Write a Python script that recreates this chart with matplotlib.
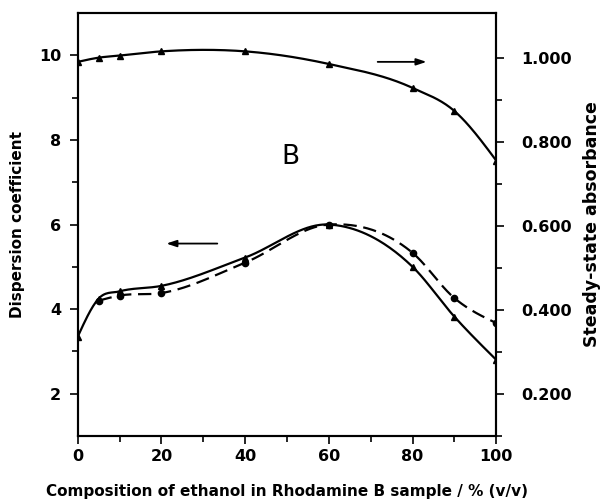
import numpy as np
import matplotlib
matplotlib.use("Agg")
import matplotlib.pyplot as plt

plt.rcParams["font.family"] = ["DejaVu Sans"]

# steady-state absorbance (right axis)
x_abs = [0, 5, 10, 20, 40, 60, 80, 90, 100]
absorbance = [0.99, 1.0, 1.005, 1.015, 1.015, 0.985, 0.928, 0.873, 0.755]

# dispersion coefficient (left axis), solid and dashed runs
x_solid = [0, 5, 10, 20, 40, 60, 80, 90, 100]
disp_solid = [3.35, 4.25, 4.42, 4.55, 5.22, 6.0, 5.0, 3.82, 2.8]
x_dash = [5, 10, 20, 40, 60, 80, 90, 100]
disp_dash = [4.2, 4.32, 4.38, 5.1, 6.0, 5.33, 4.26, 3.67]

x_ticks = [0, 20, 40, 60, 80, 100]
left_ticks = [2, 4, 6, 8, 10]
right_ticks = [0.2, 0.4, 0.6, 0.8, 1.0]


def smooth(x, y, n=300):
    """Cubic Hermite through the points, only for drawing the line."""
    x = np.asarray(x, float)
    y = np.asarray(y, float)
    h = np.diff(x)
    d = np.diff(y) / h
    m = np.empty_like(y)
    m[1:-1] = (h[1:] * d[:-1] + h[:-1] * d[1:]) / (h[:-1] + h[1:])
    m[0] = (3 * d[0] - m[1]) / 2
    m[-1] = (3 * d[-1] - m[-2]) / 2
    xs = np.linspace(x[0], x[-1], n)
    idx = np.clip(np.searchsorted(x, xs) - 1, 0, len(x) - 2)
    t = (xs - x[idx]) / h[idx]
    h00 = 2 * t**3 - 3 * t**2 + 1
    h10 = t**3 - 2 * t**2 + t
    h01 = -2 * t**3 + 3 * t**2
    h11 = t**3 - t**2
    ys = h00 * y[idx] + h10 * h[idx] * m[idx] + h01 * y[idx + 1] + h11 * h[idx] * m[idx + 1]
    return xs, ys


fig = plt.figure(figsize=(6.03, 5.04), dpi=100)
ax = fig.add_axes([0.129, 0.135, 0.694, 0.839])
ax2 = ax.twinx()

xs, ys = smooth(x_solid, disp_solid)
ax.plot(xs, ys, color="black", lw=1.6)
ax.plot(x_solid, disp_solid, "^", color="black", ms=5)
xs, ys = smooth(x_dash, disp_dash)
ax.plot(xs, ys, color="black", lw=1.6, ls=(0, (6, 3)))
ax.plot(x_dash, disp_dash, "o", color="black", ms=4.5)

xs, ys = smooth(x_abs, absorbance)
ax2.plot(xs, ys, color="black", lw=1.6)
ax2.plot(x_abs, absorbance, "^", color="black", ms=5)

ax.set_xlim(0, 100)
ax.set_ylim(1.0, 11.0)
ax2.set_ylim(0.108, 1.106)

ax.set_xticks(x_ticks)
ax.set_xticks(range(10, 100, 20), minor=True)
ax.set_yticks(left_ticks)
ax.set_yticks([3, 5, 7, 9], minor=True)
ax2.set_yticks(right_ticks)
ax2.set_yticklabels([f"{v:.3f}" for v in right_ticks])
ax2.set_yticks([0.1, 0.3, 0.5, 0.7, 0.9], minor=True)

for a in (ax, ax2):
    a.tick_params(which="major", length=6, width=1.2, labelsize=11.5)
    a.tick_params(which="minor", length=4, width=1.2)
    for lab in a.get_xticklabels() + a.get_yticklabels():
        lab.set_fontweight("bold")
    for s in a.spines.values():
        s.set_linewidth(1.5)
ax.tick_params(axis="y", pad=6)
ax2.tick_params(axis="y", pad=12)

ax.set_xlabel("Composition of ethanol in Rhodamine B sample / % (v/v)",
              fontsize=11, fontweight="bold", labelpad=14)
ax.set_ylabel("Dispersion coefficient", fontsize=11, fontweight="bold", labelpad=10)
ax2.set_ylabel("Steady-state absorbance", fontsize=12.5, fontweight="bold", labelpad=8)

ax.text(50.8, 7.6, "B", fontsize=19, ha="center", va="center")
ax.annotate("", xy=(20.5, 5.55), xytext=(34, 5.55),
            arrowprops=dict(arrowstyle="-|>,head_length=0.6,head_width=0.2",
                            color="black", lw=1.3))
ax2.annotate("", xy=(84, 0.99), xytext=(71, 0.99),
             arrowprops=dict(arrowstyle="-|>,head_length=0.6,head_width=0.2",
                             color="black", lw=1.3))

fig.savefig("out.png", dpi=100)
